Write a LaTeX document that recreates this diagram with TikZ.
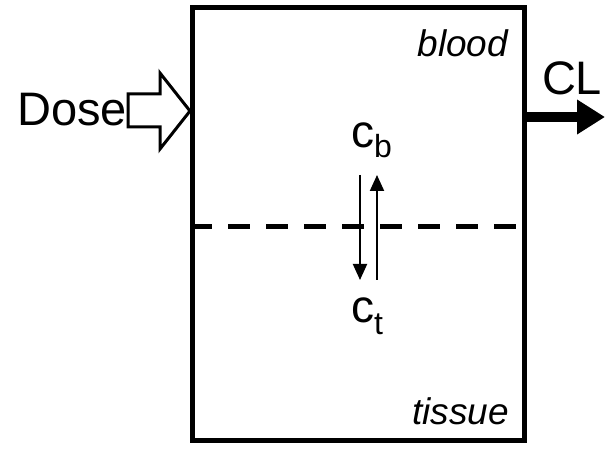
\documentclass[tikz,border=0pt]{standalone}
\usepackage{fontspec}
\setmainfont{Liberation Sans}
\usetikzlibrary{arrows.meta}
\newcommand\csub[3]{#1\raisebox{-#3pt}{\fontsize{32}{32}\selectfont #2}}
\tikzset{
  lbl/.style={inner sep=0, outer sep=0},
  big/.style={lbl, font=\fontsize{47}{47}\selectfont},
  conc/.style={lbl, font=\fontsize{46}{46}\selectfont},
  phase/.style={lbl, font=\fontsize{37}{37}\selectfont\itshape},
  flux/.style={line width=2, -{Triangle[length=16pt,width=14pt]}},
}
\begin{document}
\begin{tikzpicture}[x=1pt,y=-1pt]
\useasboundingbox (0,0) rectangle (606,449);
% compartment box
\node[draw, line width=5, minimum width=332, minimum height=433, inner sep=0] (box) at (358,224.5) {};
% dashed separation
\coordinate (dl) at (192,227);
\coordinate (dr) at (524,227);
\draw[line width=5, dash pattern=on 22pt off 16pt, dash phase=2pt] (dl) -- (dr);
% labels
\node[phase, anchor=base east] (blood) at (508,57) {blood};
\node[phase, anchor=base east] (tissue) at (509,425) {tissue};
\node[big, anchor=base east] (dose) at (127,126) {Dose};
\node[big, anchor=base west] (cl) at (542,95) {CL};
\node[conc, anchor=base west] (cb) at (351,148) {\csub{c}{b}{10}};
\node[conc, anchor=base west] (ct) at (351,323) {\csub{c}{t}{12}};
% dose hollow arrow
\draw[line width=3, line join=miter] (128,94) -- (160,94) -- (160,73) -- (190,111) -- (160,149) -- (160,127) -- (128,127) -- cycle;
% clearance arrow
\coordinate (clstart) at (524,117);
\coordinate (clend) at (605,117);
\draw[line width=10, -{Triangle[length=28pt,width=33pt]}] (clstart) -- (clend);
% exchange arrows
\coordinate (d1) at (360,175);
\coordinate (d2) at (360,280);
\coordinate (u1) at (377,280);
\coordinate (u2) at (377,175);
\draw[flux] (d1) -- (d2);
\draw[flux] (u1) -- (u2);
\end{tikzpicture}
\end{document}
